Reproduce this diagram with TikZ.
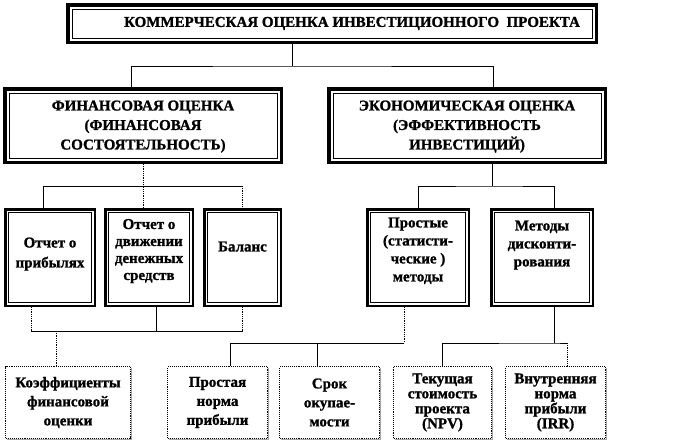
\documentclass[tikz,border=0pt]{standalone}
\usepackage{fontspec}
\setmainfont{Liberation Serif}[BoldFeatures={FakeBold=1.2}]
\usepackage{tikz}
\usetikzlibrary{shadows}
\newcommand{\innerframe}[1]{\draw[line width=.8pt, solid] ([shift={(#1,#1)}]path picture bounding box.south west) rectangle ([shift={(-#1,-#1)}]path picture bounding box.north east);}
\tikzstyle{bigbox} = [draw=black, fill=white, line width=3.5pt, align=center, font=\fontsize{15}{19.5}\selectfont\bfseries, path picture={\innerframe{4.3pt}}]
\tikzstyle{midbox} = [draw=black, fill=white, line width=2.5pt, minimum height=96.5pt, align=center, text depth=16pt, font=\fontsize{15}{18}\selectfont\bfseries, path picture={\innerframe{3.4pt}}]
\tikzstyle{lowbox} = [draw=black, fill=white, line width=1.1pt, densely dotted, minimum height=72pt, align=center, font=\fontsize{15}{19}\selectfont\bfseries, drop shadow={shadow xshift=1.2pt, shadow yshift=-1.2pt, fill=black!70, solid}]
\tikzstyle{link} = [line width=.8pt]
\tikzstyle{dotlink} = [line width=.8pt, densely dotted]

\begin{document}
\begin{tikzpicture}[x=1pt, y=-1pt]
	\fill[white] (0,0) rectangle (673,442);
	\useasboundingbox (0,0) rectangle (673,442);
	% top
	\node[bigbox, minimum width=528.5pt, minimum height=37.5pt] (top) at (332,23.5) {\hspace*{40pt}КОММЕРЧЕСКАЯ ОЦЕНКА ИНВЕСТИЦИОННОГО\ \ ПРОЕКТА};
	\node[bigbox, minimum width=276.5pt, minimum height=73.5pt, text depth=1pt] (fin) at (143,125.5) {ФИНАНСОВАЯ ОЦЕНКА\\(ФИНАНСОВАЯ\\СОСТОЯТЕЛЬНОСТЬ)};
	\node[bigbox, minimum width=276.5pt, minimum height=73.5pt, text depth=1pt] (eco) at (467,125.5) {ЭКОНОМИЧЕСКАЯ ОЦЕНКА\\(ЭФФЕКТИВНОСТЬ\\ИНВЕСТИЦИЙ)};
	% reports and methods
	\node[midbox, minimum width=89.5pt, text depth=10pt, font=\fontsize{15}{20}\selectfont\bfseries] (pl) at (50,257.5) {Отчет о\\прибылях};
	\node[midbox, minimum width=87.5pt, font=\fontsize{15}{17}\selectfont\bfseries] (dd) at (149,257.5) {Отчет о\\движении\\денежных\\средств};
	\node[midbox, minimum width=76.5pt, text depth=22pt] (bal) at (242.5,257.5) {Баланс};
	\node[midbox, minimum width=101.5pt] (simple) at (418,257.5) {Простые\\(статисти-\\ческие )\\методы};
	\node[midbox, minimum width=101.5pt, text depth=28pt] (disc) at (542,257.5) {Методы\\дисконти-\\рования};
	% indicators
	\node[lowbox, minimum width=125pt] (koef) at (68,402.5) {Коэффициенты\\финансовой\\оценки};
	\node[lowbox, minimum width=100pt] (pnp) at (217.5,402.5) {Простая\\норма\\прибыли};
	\node[lowbox, minimum width=100pt] (srok) at (329.5,402.5) {Срок\\окупае-\\мости};
	\node[lowbox, minimum width=98pt, font=\fontsize{15}{15}\selectfont\bfseries] (npv) at (442.5,402.5) {Текущая\\стоимость\\проекта\\(NPV)};
	\node[lowbox, minimum width=100pt, font=\fontsize{15}{15}\selectfont\bfseries] (irr) at (555.5,402.5) {Внутренняя\\норма\\прибыли\\(IRR)};

	% connectors
	\draw[link] ([xshift=-40pt]top.south) -- ++(0,22) coordinate (tj);
	\draw[link] ([xshift=-12pt]fin.north) |- (tj) -| ([xshift=26pt]eco.north);

	\draw[dotlink] (fin.south) -- (fin.south |- dd.north);
	\draw[link] ([xshift=-7pt]pl.north) -- ++(0,-22) coordinate (fj) -- (fj -| bal.north);
	\draw[dotlink] (fj -| bal.north) -- (bal.north);

	\draw[dotlink] ([xshift=-19pt]pl.south) -- ++(0,24) coordinate (kj);
	\draw[link] (kj) -- (kj -| bal.south);
	\draw[link] ([xshift=7pt]dd.south) -- ([xshift=7pt]dd.south |- kj);
	\draw[dotlink] (bal.south) -- (bal.south |- kj);
	\draw[dotlink] ([xshift=-12pt]koef.north) -- ([xshift=-12pt]koef.north |- kj);

	\draw[link] ([xshift=25pt]eco.south) -- ++(0,22) coordinate (ej);
	\draw[link] (simple.north) |- (ej) -| ([xshift=12pt]disc.north);

	\draw[dotlink] ([xshift=-14pt]simple.south) -- ++(0,36) coordinate (sj);
	\draw[link] (sj) -| ([xshift=12.5pt]pnp.north);
	\draw[link] ([xshift=-12.5pt]srok.north) -- ([xshift=-12.5pt]srok.north |- sj);

	\draw[link] ([xshift=12pt]disc.south) -- ++(0,36) coordinate (dj);
	\draw[link] (npv.north) |- (dj) -- ([xshift=11.5pt]irr.north |- dj);
	\draw[dotlink] ([xshift=11.5pt]irr.north |- dj) -- ([xshift=11.5pt]irr.north);
\end{tikzpicture}
\end{document}
